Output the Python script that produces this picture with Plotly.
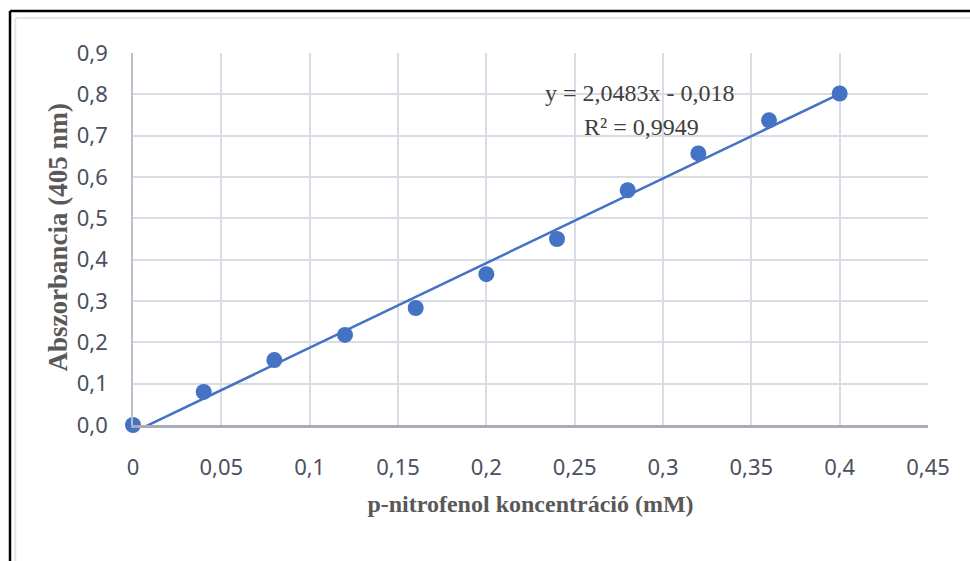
import plotly.graph_objects as go

# ---- data ----
concentration = [0, 0.04, 0.08, 0.12, 0.16, 0.20, 0.24, 0.28, 0.32, 0.36, 0.40]
absorbance = [0.0, 0.080, 0.157, 0.218, 0.283, 0.365, 0.450, 0.568, 0.657, 0.737, 0.802]
slope = 2.0483
intercept = -0.018
r_squared = 0.9949
x_ticks = [0, 0.05, 0.1, 0.15, 0.2, 0.25, 0.3, 0.35, 0.4, 0.45]
x_tick_labels = ["0", "0,05", "0,1", "0,15", "0,2", "0,25", "0,3", "0,35", "0,4", "0,45"]
y_ticks = [0, 0.1, 0.2, 0.3, 0.4, 0.5, 0.6, 0.7, 0.8, 0.9]
y_tick_labels = ["0,0", "0,1", "0,2", "0,3", "0,4", "0,5", "0,6", "0,7", "0,8", "0,9"]
x_title = "p-nitrofenol koncentráció (mM)"
y_title = "Abszorbancia (405 nm)"

BLUE = "#4472C4"
trend_x = [concentration[0], concentration[-1]]
trend_y = [slope * v + intercept for v in trend_x]

fig = go.Figure()
fig.add_trace(go.Scatter(
    x=trend_x, y=trend_y, mode="lines",
    line=dict(color=BLUE, width=2.5), showlegend=False, hoverinfo="skip",
))
fig.add_trace(go.Scatter(
    x=concentration, y=absorbance, mode="markers",
    marker=dict(color=BLUE, size=16, line=dict(width=0)),
    cliponaxis=False, showlegend=False,
))

eq_line1 = ("y = " + f"{slope:.4f}".replace(".", ",") + "x - "
            + f"{abs(intercept):.3f}".replace(".", ","))
eq_line2 = "R² = " + f"{r_squared:.4f}".replace(".", ",")
eq_font = dict(family="Liberation Serif", size=24, color="#404040")
fig.add_annotation(x=0.287, y=0.803, xref="x", yref="y", text=eq_line1,
                   showarrow=False, font=eq_font)
fig.add_annotation(x=0.288, y=0.721, xref="x", yref="y", text=eq_line2,
                   showarrow=False, font=eq_font)

# y-axis title (placed as rotated annotation)
fig.add_annotation(x=-0.094, y=0.505, xref="paper", yref="paper", text="<b>" + y_title + "</b>",
                   textangle=-90, showarrow=False, xanchor="center", yanchor="middle",
                   font=dict(family="Liberation Serif", size=27, color="#595959"))

# outer frame (black) and inner light frame
fig.add_shape(type="line", xref="paper", yref="paper", x0=-0.1547, x1=1.06, y0=1.1129, y1=1.1129,
              line=dict(color="black", width=2.5))
fig.add_shape(type="line", xref="paper", yref="paper", x0=-0.1547, x1=-0.1547, y0=1.1129, y1=-0.38,
              line=dict(color="black", width=2.5))
fig.add_shape(type="line", xref="paper", yref="paper", x0=-0.148, x1=1.06, y0=1.094, y1=1.094,
              line=dict(color="#e3e5ea", width=2))
fig.add_shape(type="line", xref="paper", yref="paper", x0=-0.148, x1=-0.148, y0=1.094, y1=-0.38,
              line=dict(color="#e3e5ea", width=2))

tick_font = dict(family="Noto Sans", size=22, color="#4a5060")
title_font = dict(family="Liberation Serif", size=24, color="#595959")

fig.update_layout(
    width=970, height=561,
    margin=dict(l=133, r=42, t=53, b=136),
    paper_bgcolor="white", plot_bgcolor="white",
    xaxis=dict(
        range=[0, 0.45], tickvals=x_ticks, ticktext=x_tick_labels,
        showgrid=True, gridcolor="#d9dde3", gridwidth=1.5,
        showline=True, linecolor="#a9adb5", linewidth=2.5,
        zeroline=False, tickfont=tick_font, ticks="", ticklabelstandoff=21,
        title=dict(text="<b>" + x_title + "</b>", font=title_font, standoff=16),
        fixedrange=True,
    ),
    yaxis=dict(
        range=[0, 0.9], tickvals=y_ticks, ticktext=y_tick_labels,
        showgrid=True, gridcolor="#d9dde3", gridwidth=1.5,
        showline=True, linecolor="#b8c0cc", linewidth=1.5,
        zeroline=False, tickfont=tick_font, ticks="", ticklabelstandoff=19,
        fixedrange=True,
    ),
)

fig.write_html("out.html")
